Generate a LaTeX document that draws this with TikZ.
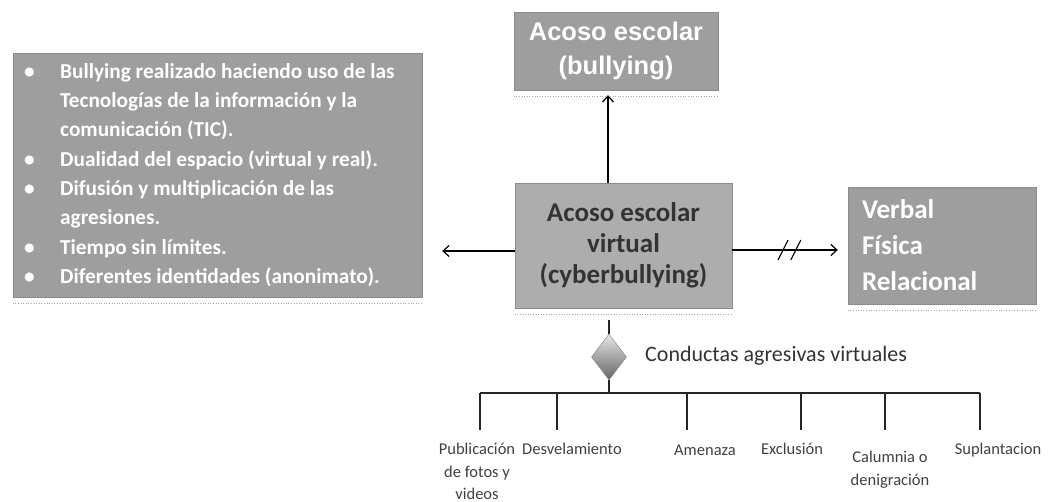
\documentclass[tikz,border=0pt]{standalone}
\usepackage{fontspec}
\setmainfont{Carlito}
\newfontfamily\arialfont{Liberation Sans}
\usetikzlibrary{arrows.meta,shapes.geometric}
\tikzset{
  gbox/.style={rectangle, fill=black!38, draw=black!45, line width=0.4pt, inner sep=0pt},
  refl/.style={draw=black!35, dotted, line width=0.6pt},
  arr/.style={line width=1.2pt, -{Straight Barb[length=6pt,width=11pt,line width=1.2pt]}},
  tree/.style={line width=1.3pt, black!85},
  leaf/.style={font=\fontsize{16.5}{22.5}\selectfont, text=black!75, align=center, inner sep=0pt, anchor=north},
}
\begin{document}
\begin{tikzpicture}[x=1pt,y=-1pt]
\useasboundingbox (0,0) rectangle (1055,502);

% left box
\node[gbox, minimum width=409pt, minimum height=244pt] (left) at (217.5,175) {};
\node[anchor=west, inner sep=0pt, text=white,
      font=\bfseries\fontsize{21.3}{29.3}\selectfont] (lefttext) at (22,175)
 {\begin{tabular}{@{}p{38pt}@{}l@{}}
 \hspace*{2pt}\textbullet & Bullying realizado haciendo uso de las\\
  & Tecnologías de la información y la\\
  & comunicación (TIC).\\
 \hspace*{2pt}\textbullet & Dualidad del espacio (virtual y real).\\
 \hspace*{2pt}\textbullet & Difusión y multiplicación de las\\
  & agresiones.\\
 \hspace*{2pt}\textbullet & Tiempo sin límites.\\
 \hspace*{2pt}\textbullet & Diferentes identidades (anonimato).
 \end{tabular}};
\draw[refl] ([yshift=-6pt]left.south west) -- ([yshift=-6pt]left.south east);

% top box
\node[gbox, minimum width=204pt, minimum height=78pt, text=white, align=center,
      font=\arialfont\bfseries\fontsize{25.5}{34}\selectfont] (top) at (616,51)
 {Acoso escolar\\(bullying)};
\draw[refl] ([yshift=-6pt]top.south west) -- ([yshift=-6pt]top.south east);

% middle box
\node[gbox, fill=black!32, minimum width=217pt, minimum height=125pt, text=black!80, align=center,
      font=\bfseries\fontsize{27}{31}\selectfont] (mid) at (623.5,245.5)
 {Acoso escolar\\virtual\\(cyberbullying)};
\draw[refl] ([yshift=-6pt]mid.south west) -- ([yshift=-6pt]mid.south east);

% right box
\node[gbox, minimum width=188pt, minimum height=117pt, text=white, align=left,
      text width=160pt, inner xsep=14pt,
      font=\bfseries\fontsize{27}{36}\selectfont] (right) at (942,245.5)
 {Verbal\\Física\\Relacional};
\draw[refl] ([yshift=-6pt]right.south west) -- ([yshift=-6pt]right.south east);

% arrows
\draw[arr, shorten >=5pt] ([xshift=-15.5pt]mid.north) -- ([xshift=-15.5pt]mid.north |- top.south);
\draw[arr, shorten >=20pt] ([yshift=-5.5pt]mid.west) -- ([yshift=-5.5pt]mid.west -| left.east);
\draw[arr, shorten >=10pt] ([yshift=-4.5pt]mid.east) -- coordinate[pos=0.44] (h1) coordinate[pos=0.55] (h2) ([yshift=-4.5pt]mid.east -| right.west);
\draw[line width=1.1pt] ([shift={(-5pt,-10pt)}]h1) -- ([shift={(5pt,10pt)}]h1);
\draw[line width=1.1pt] ([shift={(-5pt,-10pt)}]h2) -- ([shift={(5pt,10pt)}]h2);

% diamond
\node[diamond, minimum width=35pt, minimum height=46pt, inner sep=0pt,
      top color=black!10, bottom color=black!60, draw=black!50] (dia) at (609,357) {};
\node[anchor=west, inner sep=0pt, text=black!80, font=\fontsize{22}{26}\selectfont] (cond) at (645,356) {Conductas agresivas virtuales};
\draw[tree, shorten <=12pt] ([xshift=-14.5pt]mid.south) -- (dia.north);

% tree
\coordinate (bus) at (609,393);
\coordinate (b1) at (480,393);
\coordinate (b2) at (557,393);
\coordinate (b3) at (687,393);
\coordinate (b4) at (801,393);
\coordinate (b5) at (885,393);
\coordinate (b6) at (980,393);
\draw[tree] (dia.south) -- (bus);
\draw[tree] (b1) -- (b6);
\foreach \b in {b1,b2,b3,b4,b5,b6} \draw[tree] (\b) -- ++(0,37);

\node[leaf] (l1) at (477,443) {Publicación\\de fotos y\\videos};
\node[leaf] (l2) at (572,443) {Desvelamiento};
\node[leaf] (l3) at (705,445) {Amenaza};
\node[leaf] (l4) at (792,443) {Exclusión};
\node[leaf] (l5) at (890,451) {Calumnia o\\denigración};
\node[leaf] (l6) at (998,443) {Suplantacion};
\end{tikzpicture}
\end{document}
